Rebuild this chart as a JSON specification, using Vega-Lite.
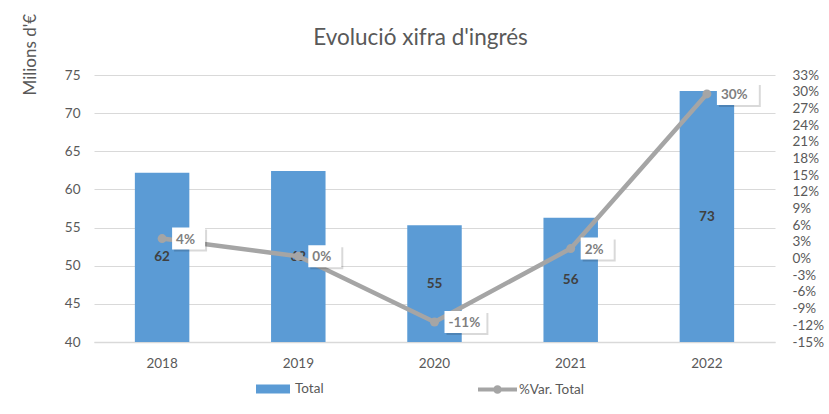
{
  "$schema": "https://vega.github.io/schema/vega-lite/v6.json",
  "width": 681,
  "height": 267,
  "autosize": {"type": "none"},
  "padding": {"left": 94, "top": 75, "right": 54, "bottom": 72},
  "background": "white",
  "title": {
    "text": "Evolució xifra d'ingrés",
    "fontSize": 22.5,
    "fontWeight": "normal",
    "color": "#595959",
    "anchor": "middle",
    "frame": "group",
    "baseline": "alphabetic",
    "dx": -14,
    "offset": -54
  },
  "data": {
    "values": [
      {"year": "2018", "total": 62.2, "pct": 0.036},
      {"year": "2019", "total": 62.4, "pct": 0.004},
      {"year": "2020", "total": 55.3, "pct": -0.114},
      {"year": "2021", "total": 56.3, "pct": 0.018},
      {"year": "2022", "total": 72.9, "pct": 0.296}
    ]
  },
  "encoding": {
    "x": {
      "field": "year",
      "type": "ordinal",
      "scale": {"paddingInner": 0.6, "paddingOuter": 0.3},
      "axis": {
        "title": null,
        "labelAngle": 0,
        "domain": true,
        "domainColor": "#d9d9d9",
        "domainWidth": 1.5,
        "ticks": false,
        "labelPadding": 14,
        "labelColor": "#595959",
        "labelFontSize": 13.5
      }
    }
  },
  "layer": [
    {
      "mark": {"type": "bar", "stroke": null},
      "encoding": {
        "y": {
          "field": "total",
          "type": "quantitative",
          "scale": {"domain": [40, 75], "nice": false, "zero": false},
          "axis": {
            "orient": "left",
            "values": [40, 45, 50, 55, 60, 65, 70, 75],
            "grid": true,
            "gridColor": "#d9d9d9",
            "gridWidth": 1.2,
            "domain": false,
            "ticks": false,
            "labelPadding": 14,
            "labelColor": "#595959",
            "labelFontSize": 13.5,
            "title": "Milions d'€",
            "titleAngle": -90,
            "titleX": -64,
            "titleY": 20,
            "titleAlign": "left",
            "titleBaseline": "middle",
            "titleFontSize": 17,
            "titleFontWeight": "normal",
            "titleColor": "#595959"
          }
        },
        "y2": {"datum": 40},
        "fill": {
          "datum": "Total",
          "type": "nominal",
          "scale": {"domain": ["Total"], "range": ["#5b9bd5"]},
          "legend": {
            "title": null,
            "orient": "none",
            "legendX": 162,
            "legendY": 297,
            "padding": 0,
            "symbolType": "M-1,-0.265H1V0.265H-1Z",
            "symbolSize": 1156,
            "symbolStrokeWidth": 0,
            "labelOffset": 5,
            "labelFontSize": 13.5,
            "labelColor": "#595959"
          }
        }
      }
    },
    {
      "mark": {"type": "text", "fontWeight": "bold", "fontSize": 13.5, "color": "#404040", "baseline": "middle"},
      "encoding": {
        "y": {
          "field": "total",
          "type": "quantitative",
          "scale": {"domain": [40, 110], "nice": false, "zero": false},
          "axis": null
        },
        "text": {"field": "total", "type": "quantitative", "format": ".0f"}
      }
    },
    {
      "encoding": {
        "y": {
          "field": "pct",
          "type": "quantitative",
          "scale": {"domain": [-0.15, 0.33], "nice": false, "zero": false},
          "axis": {
            "orient": "right",
            "values": [-0.15, -0.12, -0.09, -0.06, -0.03, 0, 0.03, 0.06, 0.09, 0.12, 0.15, 0.18, 0.21, 0.24, 0.27, 0.3, 0.33],
            "format": ".0%",
            "grid": false,
            "domain": false,
            "ticks": false,
            "labelPadding": 17,
            "labelColor": "#595959",
            "labelFontSize": 13.5,
            "labelOverlap": false,
            "labelBound": false,
            "title": null
          }
        }
      },
      "layer": [
        {
          "mark": {"type": "line", "strokeWidth": 4.5, "strokeCap": "round", "strokeJoin": "round"},
          "encoding": {
            "stroke": {
              "datum": "%Var. Total",
              "type": "nominal",
              "scale": {"domain": ["%Var. Total"], "range": ["#a5a5a5"]},
              "legend": {
                "title": null,
                "orient": "none",
                "legendX": 382,
                "legendY": 293,
                "padding": 0,
                "symbolType": "M-1,0H1M0.12,0A0.12,0.12,0,1,1,-0.12,0A0.12,0.12,0,1,1,0.12,0Z",
                "symbolSize": 1521,
                "symbolStrokeWidth": 4,
                "symbolFillColor": "#a5a5a5",
                "labelOffset": 0,
                "labelFontSize": 13.5,
                "labelColor": "#595959"
              }
            }
          }
        },
        {
          "mark": {"type": "point", "filled": true, "size": 80, "color": "#a5a5a5", "opacity": 1},
          "encoding": {}
        },
        {
          "mark": {"type": "point", "filled": true, "size": 1936, "color": "#000000", "opacity": 0.15, "strokeWidth": 0},
          "encoding": {
            "shape": {
              "condition": {"test": "abs(datum.pct) >= 0.095", "value": "M0.545,-0.41H2.45V0.59H0.545Z"},
              "value": "M0.545,-0.41H2.045V0.59H0.545Z"
            }
          }
        },
        {
          "mark": {"type": "point", "filled": true, "size": 1936, "color": "#ffffff", "opacity": 1, "strokeWidth": 0},
          "encoding": {
            "shape": {
              "condition": {"test": "abs(datum.pct) >= 0.095", "value": "M0.4545,-0.5H2.36V0.5H0.4545Z"},
              "value": "M0.4545,-0.5H1.9545V0.5H0.4545Z"
            }
          }
        },
        {
          "mark": {"type": "text", "align": "left", "baseline": "middle", "dx": 14, "dy": 1, "fontWeight": "bold", "fontSize": 13.5, "color": "#7f7f7f"},
          "encoding": {
            "text": {"field": "pct", "type": "quantitative", "format": ".0%"}
          }
        }
      ]
    }
  ],
  "resolve": {"scale": {"y": "independent"}},
  "config": {
    "font": "Lato",
    "view": {"stroke": null},
    "locale": {
      "number": {"decimal": ".", "thousands": ",", "grouping": [3], "currency": ["", "€"], "minus": "-"}
    }
  }
}
